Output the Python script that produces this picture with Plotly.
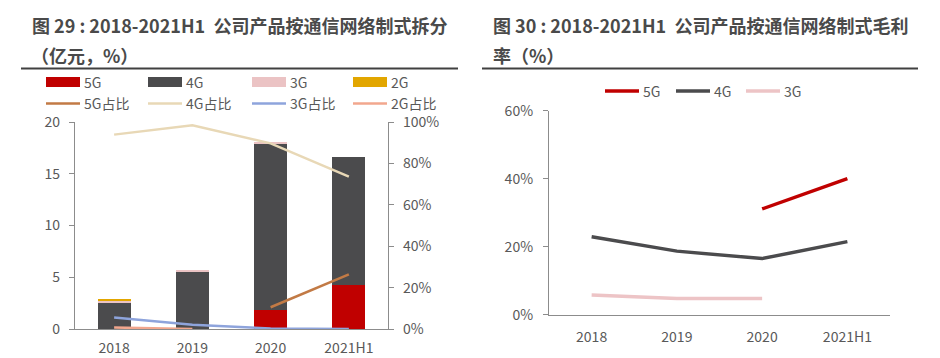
import plotly.graph_objects as go

# ---------------- data ----------------
categories = ["2018", "2019", "2020", "2021H1"]

# left chart: revenue by network generation (亿元)
rev_5g = [0, 0, 1.85, 4.3]
rev_4g = [2.55, 5.5, 16.05, 12.3]
rev_3g = [0.2, 0.2, 0.15, 0]
rev_2g = [0.1, 0, 0, 0]

# shares (%)
share_5g = [None, None, 10.5, 26.4]
share_4g = [93.9, 98.4, 89.7, 73.6]
share_3g = [5.5, 2.0, 0.3, 0.0]
share_2g = [0.7, 0.0, None, None]

# right chart: gross margin (%)
gm_5g = [None, None, 31.1, 40.0]
gm_4g = [22.9, 18.7, 16.5, 21.5]
gm_3g = [5.8, 4.8, 4.8, None]

left_y_ticks = [0, 5, 10, 15, 20]
left_y2_ticks = [0, 20, 40, 60, 80, 100]
right_y_ticks = [0, 20, 40, 60]

title_left_1 = "图 29 : 2018-2021H1  公司产品按通信网络制式拆分"
title_left_2 = "（亿元，%）"
title_right_1 = "图 30 : 2018-2021H1  公司产品按通信网络制式毛利"
title_right_2 = "率（%）"

bar_names = ["5G", "4G", "3G", "2G"]
share_names = ["5G占比", "4G占比", "3G占比", "2G占比"]
gm_names = ["5G", "4G", "3G"]

# ---------------- styles ----------------
W, H = 940, 358
FONT = "Noto Sans CJK SC"
TXT = "#595959"
AX = "#8c8c8c"
bar_colors = ["#C00000", "#4B4B4D", "#EBC3C4", "#E2A600"]
share_colors = ["#C27A45", "#E8D8B6", "#8EA4DC", "#F2A78E"]
gm_colors = ["#C00000", "#4B4B4D", "#EDC4C6"]


def px(x):
    return x / W


def py(y):
    return 1 - y / H


fig = go.Figure()

# stacked bars
for vals, name, col in zip([rev_5g, rev_4g, rev_3g, rev_2g], bar_names, bar_colors):
    fig.add_trace(go.Bar(x=categories, y=vals, name=name, marker_color=col,
                         marker_line_width=0, width=0.42,
                         xaxis="x", yaxis="y", showlegend=False))

# share lines
for vals, name, col in zip([share_5g, share_4g, share_3g, share_2g], share_names, share_colors):
    fig.add_trace(go.Scatter(x=categories, y=vals, name=name, mode="lines",
                             line=dict(color=col, width=2.5),
                             xaxis="x", yaxis="y2", showlegend=False))

# gross margin lines (drawn 3G, 4G, 5G so 5G on top)
for vals, name, col in reversed(list(zip([gm_5g, gm_4g, gm_3g], gm_names, gm_colors))):
    fig.add_trace(go.Scatter(x=categories, y=vals, name=name, mode="lines",
                             line=dict(color=col, width=3.5),
                             xaxis="x3", yaxis="y3", showlegend=False))

tickfont = dict(family=FONT, size=14, color=TXT)
common = dict(automargin=False, showgrid=False, zeroline=False, showline=True,
              linecolor=AX, linewidth=1.3, tickfont=tickfont)

fig.update_layout(
    template="none",
    width=W, height=H,
    margin=dict(l=0, r=0, t=0, b=0, pad=0),
    paper_bgcolor="white", plot_bgcolor="white",
    barmode="stack",
    showlegend=False,
    xaxis=dict(domain=[px(75), px(388)], anchor="y", type="category",
               range=[-0.5, 3.5], ticks="", ticklabelstandoff=6, **common),
    yaxis=dict(domain=[py(329), py(122)], anchor="x", range=[0, 20],
               tickvals=left_y_ticks, ticks="outside", ticklen=5, tickcolor=AX,
               ticklabelstandoff=6, **common),
    yaxis2=dict(overlaying="y", side="right", anchor="x", range=[0, 100],
                tickvals=left_y2_ticks, ticktext=[f"{v}%" for v in left_y2_ticks],
                ticks="outside", ticklen=5, tickcolor=AX, ticklabelstandoff=6, **common),
    xaxis3=dict(domain=[px(549), px(890)], anchor="y3", type="category",
                range=[-0.5, 3.5], ticks="", ticklabelstandoff=9, **common),
    yaxis3=dict(domain=[py(314.7), py(110.7)], anchor="x3", range=[0, 60],
                tickvals=right_y_ticks, ticktext=[f"{v}%" for v in right_y_ticks],
                ticks="outside", ticklen=5, tickcolor=AX, ticklabelstandoff=7, **common),
)

shapes = []
annotations = []

# titles
title_font = dict(family=FONT, size=18, color="#4a4a4a")
for txt, x, y in [(title_left_1, 30, 25), (title_left_2, 29, 55),
                  (title_right_1, 491, 25), (title_right_2, 491, 55)]:
    annotations.append(dict(text=f"<b>{txt}</b>", x=px(x), y=py(y), xref="paper",
                            yref="paper", xanchor="left", yanchor="middle",
                            showarrow=False, font=title_font))
for x0, x1 in [(21, 458), (482, 918)]:
    shapes.append(dict(type="line", xref="paper", yref="paper", x0=px(x0), x1=px(x1),
                       y0=py(68.5), y1=py(68.5), line=dict(color="#404040", width=2.2)))

# left legend (manual)
leg_font = dict(family=FONT, size=14, color=TXT)
leg_x = [46, 148, 252, 353]
for i, (name, col) in enumerate(zip(bar_names, bar_colors)):
    x0 = leg_x[i]
    shapes.append(dict(type="rect", xref="paper", yref="paper", x0=px(x0), x1=px(x0 + 34),
                       y0=py(87), y1=py(77), fillcolor=col, line=dict(width=0)))
    annotations.append(dict(text=name, x=px(x0 + 36), y=py(82), xref="paper", yref="paper",
                            xanchor="left", yanchor="middle", showarrow=False, font=leg_font))
for i, (name, col) in enumerate(zip(share_names, share_colors)):
    x0 = leg_x[i]
    shapes.append(dict(type="line", xref="paper", yref="paper", x0=px(x0), x1=px(x0 + 34),
                       y0=py(103.5), y1=py(103.5), line=dict(color=col, width=2.5)))
    annotations.append(dict(text=name, x=px(x0 + 36), y=py(103), xref="paper", yref="paper",
                            xanchor="left", yanchor="middle", showarrow=False, font=leg_font))

# right legend (manual)
rleg_x = [605, 676, 746]
for i, (name, col) in enumerate(zip(gm_names, gm_colors)):
    x0 = rleg_x[i]
    shapes.append(dict(type="line", xref="paper", yref="paper", x0=px(x0), x1=px(x0 + 34),
                       y0=py(91), y1=py(91), line=dict(color=col, width=3.5)))
    annotations.append(dict(text=name, x=px(x0 + 36), y=py(91), xref="paper", yref="paper",
                            xanchor="left", yanchor="middle", showarrow=False, font=leg_font))

fig.update_layout(shapes=shapes, annotations=annotations)

fig.write_html("out.html",
               config={"displayModeBar": False},
               post_script="document.body.style.margin='0';document.body.style.overflow='hidden';")
